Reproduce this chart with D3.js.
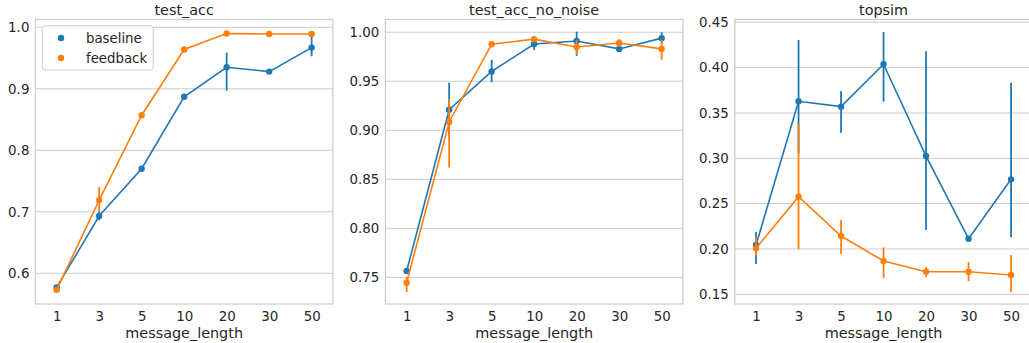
<!DOCTYPE html>
<html><head><meta charset="utf-8">
<script src="https://cdn.jsdelivr.net/npm/d3@7"></script>
<style>body{margin:0;background:#fff}svg{display:block}text{font-family:"DejaVu Sans",sans-serif;fill:#262626}</style>
</head><body><svg id="c" width="1029" height="343"></svg>
<script>
const categories = ["1","3","5","10","20","30","50"];
const seriesNames = ["baseline","feedback"];
const colors = ["#1f77b4","#ff7f0e"];
const titles = ["test_acc","test_acc_no_noise","topsim"];

// test_acc
const accBase = [0.577,0.693,0.770,0.887,0.935,0.928,0.967];
const accBaseLo = [0.575,0.686,0.766,0.885,0.897,0.926,0.953];
const accBaseHi = [0.580,0.700,0.774,0.890,0.959,0.930,0.987];
const accFeed = [0.573,0.719,0.857,0.964,0.990,0.989,0.989];
const accFeedLo = [0.571,0.700,0.855,0.962,0.989,0.988,0.988];
const accFeedHi = [0.576,0.740,0.860,0.966,0.991,0.990,0.990];
const accTicks = [0.6,0.7,0.8,0.9,1.0];
const accDomain = [0.55,1.0127];

// test_acc_no_noise
const nnBase = [0.7564,0.921,0.960,0.988,0.991,0.983,0.994];
const nnBaseLo = [0.754,0.893,0.949,0.982,0.976,0.980,0.988];
const nnBaseHi = [0.759,0.9486,0.972,0.993,1.0006,0.986,1.0];
const nnFeed = [0.7445,0.9085,0.9878,0.993,0.985,0.989,0.983];
const nnFeedLo = [0.735,0.862,0.985,0.991,0.978,0.985,0.972];
const nnFeedHi = [0.7506,0.932,0.991,0.995,0.992,0.993,0.992];
const nnTicks = [0.75,0.80,0.85,0.90,0.95,1.00];
const nnDomain = [0.7228,1.013];

// topsim
const tsBase = [0.2044,0.3629,0.357,0.4037,0.3025,0.2113,0.2768];
const tsBaseLo = [0.1834,0.3055,0.3282,0.3624,0.221,0.2085,0.2129];
const tsBaseHi = [0.2187,0.4305,0.3742,0.4393,0.418,0.2143,0.3834];
const tsFeed = [0.2007,0.2577,0.2143,0.1867,0.1749,0.1749,0.1713];
const tsFeedLo = [0.1922,0.1996,0.1945,0.168,0.169,0.1647,0.1522];
const tsFeedHi = [0.2129,0.3378,0.232,0.2018,0.180,0.1856,0.1934];
const tsTicks = [0.15,0.20,0.25,0.30,0.35,0.40,0.45];
const tsDomain = [0.1393,0.4531];

const panels = [
  {title:titles[0], ticks:accTicks, fmt:d3.format(".1f"), domain:accDomain,
   series:[[accBase,accBaseLo,accBaseHi],[accFeed,accFeedLo,accFeedHi]], legend:true},
  {title:titles[1], ticks:nnTicks, fmt:d3.format(".2f"), domain:nnDomain,
   series:[[nnBase,nnBaseLo,nnBaseHi],[nnFeed,nnFeedLo,nnFeedHi]]},
  {title:titles[2], ticks:tsTicks, fmt:d3.format(".2f"), domain:tsDomain,
   series:[[tsBase,tsBaseLo,tsBaseHi],[tsFeed,tsFeedLo,tsFeedHi]]}
];

const svg = d3.select("#c");
const lefts = [35.4,385.4,734.8];
const W = 297.5, plotTop = 19.5, plotBottom = 304;

panels.forEach((p,i)=>{
  const g = svg.append("g").attr("transform",`translate(${lefts[i]},0)`);
  const x = d3.scalePoint().domain(categories).range([0,W]).padding(0.5);
  const y = d3.scaleLinear().domain(p.domain).range([plotBottom,plotTop]);
  g.append("g").selectAll("line").data(p.ticks).join("line")
    .attr("x1",0).attr("x2",W).attr("y1",d=>y(d)).attr("y2",d=>y(d))
    .attr("stroke","#cccccc").attr("stroke-width",1);
  g.append("rect").attr("x",0).attr("y",plotTop).attr("width",W).attr("height",plotBottom-plotTop)
    .attr("fill","none").attr("stroke","#cccccc").attr("stroke-width",1.25);
  const ya = d3.axisLeft(y).tickValues(p.ticks).tickFormat(p.fmt).tickSize(0).tickPadding(6);
  const yg = g.append("g").call(ya);
  yg.select(".domain").remove();
  yg.selectAll("text").attr("font-size",13.4).attr("fill","#262626").attr("font-family","DejaVu Sans");
  const xa = d3.axisBottom(x).tickSize(0).tickPadding(7);
  const xg = g.append("g").attr("transform",`translate(0,${plotBottom})`).call(xa);
  xg.select(".domain").remove();
  xg.selectAll("text").attr("font-size",13.4).attr("fill","#262626").attr("font-family","DejaVu Sans");
  g.append("text").attr("x",W/2).attr("y",338).attr("text-anchor","middle").attr("font-size",14.4).text("message_length");
  g.append("text").attr("x",W/2).attr("y",15).attr("text-anchor","middle").attr("font-size",14.4).text(p.title);
  p.series.forEach((s,k)=>{
    const [vals,lo,hi] = s;
    const sg = g.append("g");
    sg.selectAll("line.err").data(categories).join("line").attr("class","err")
      .attr("x1",d=>x(d)).attr("x2",d=>x(d))
      .attr("y1",(d,j)=>y(lo[j])).attr("y2",(d,j)=>y(hi[j]))
      .attr("stroke",colors[k]).attr("stroke-width",1.8);
    sg.append("path").datum(vals)
      .attr("d",d3.line().x((d,j)=>x(categories[j])).y(d=>y(d)))
      .attr("fill","none").attr("stroke",colors[k]).attr("stroke-width",1.6);
    sg.selectAll("circle").data(vals).join("circle")
      .attr("cx",(d,j)=>x(categories[j])).attr("cy",d=>y(d)).attr("r",3.2)
      .attr("fill",colors[k]);
  });
  if(p.legend){
    const lg = g.append("g");
    lg.append("rect").attr("x",42.3-lefts[i]).attr("y",25.7).attr("width",111).attr("height",44.3)
      .attr("rx",3).attr("fill","white").attr("fill-opacity",0.8).attr("stroke","#cccccc").attr("stroke-width",1);
    seriesNames.forEach((n,k)=>{
      lg.append("circle").attr("cx",61-lefts[i]).attr("cy",38+k*20).attr("r",3.2).attr("fill",colors[k]);
      lg.append("text").attr("x",86-lefts[i]).attr("y",42.7+k*20).attr("font-size",13.3).text(n);
    });
  }
});
</script></body></html>
